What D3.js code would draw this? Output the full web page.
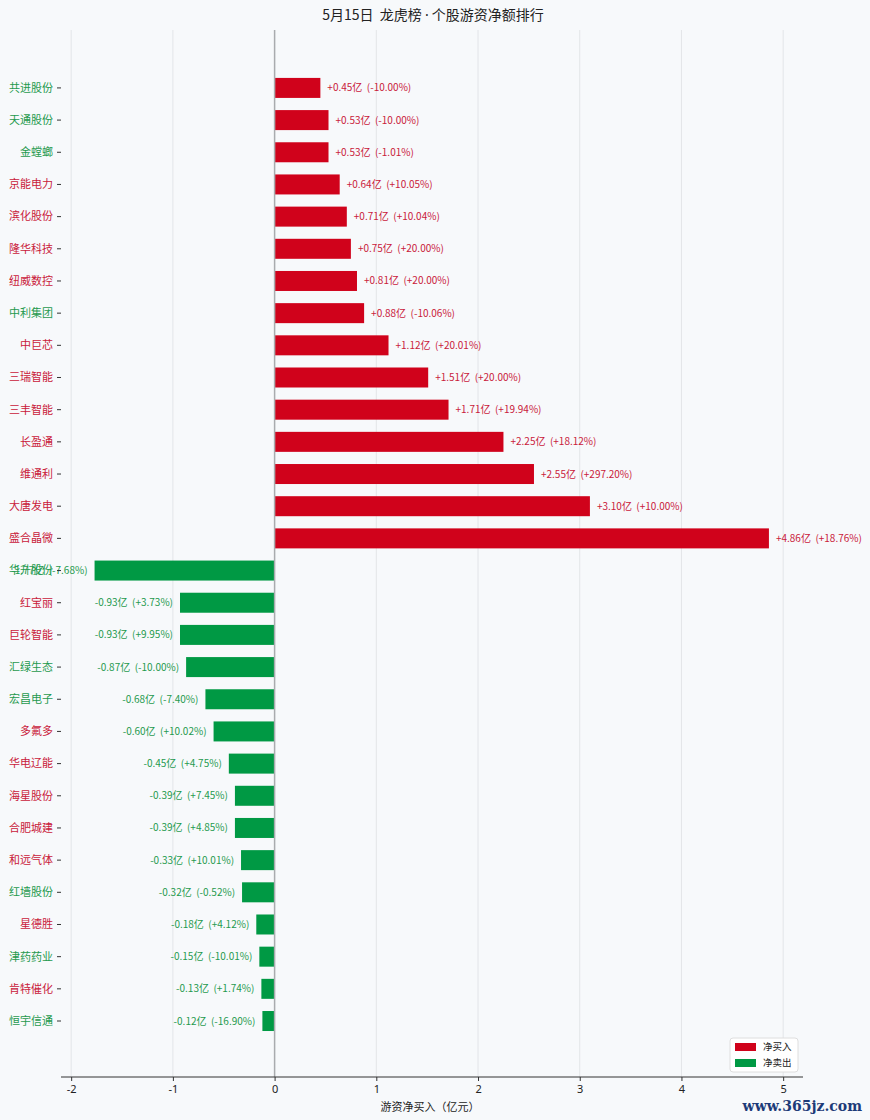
<!DOCTYPE html>
<html>
<head>
<meta charset="utf-8">
<script src="https://cdn.jsdelivr.net/npm/d3@7"></script>
<style>
  body { margin: 0; background: #f7f9fb; }
  svg { display: block; font-family: "Noto Sans CJK SC", "Noto Sans", sans-serif; }
  .lbl { white-space: pre; }
</style>
</head>
<body>
<svg id="chart" width="870" height="1120"></svg>
<script>
// stock names, top to bottom
var names = ["共进股份","天通股份","金螳螂","京能电力","滨化股份","隆华科技","纽威数控","中利集团","中巨芯","三瑞智能",
  "三丰智能","长盈通","维通利","大唐发电","盛合晶微","华升股份","红宝丽","巨轮智能","汇绿生态","宏昌电子",
  "多氟多","华电辽能","海星股份","合肥城建","和远气体","红墙股份","星德胜","津药药业","肯特催化","恒宇信通"]
// 游资净买入 (亿元)
var netBuy = [0.45,0.53,0.53,0.64,0.71,0.75,0.81,0.88,1.12,1.51,
  1.71,2.25,2.55,3.10,4.86,-1.77,-0.93,-0.93,-0.87,-0.68,
  -0.60,-0.45,-0.39,-0.39,-0.33,-0.32,-0.18,-0.15,-0.13,-0.12]
// 涨跌幅 (%)
var pctChg = [-10.00,-10.00,-1.01,10.05,10.04,20.00,20.00,-10.06,20.01,20.00,
  19.94,18.12,297.20,10.00,18.76,-7.68,3.73,9.95,-10.00,-7.40,
  10.02,4.75,7.45,4.85,10.01,-0.52,4.12,-10.01,1.74,-16.90]
var xTicks = [-2,-1,0,1,2,3,4,5]
var legendItems = ["净买入","净卖出"]

var red = "#d0021b", green = "#009944"
var redText = "#c9203a", greenText = "#1f9a4e"

var svg = d3.select("#chart")
var pLeft = 61, pRight = 803, pTop = 30, pBottom = 1077

var x = d3.scaleLinear().domain([-2.1, 5.195]).range([pLeft, pRight])
var y = d3.scaleLinear().domain([-1.8, names.length - 1 + 1.74]).range([pTop, pBottom])
var barH = 20

svg.append("rect").attr("width", 870).attr("height", 1120).attr("fill", "#f7f9fb")

// title
var title = svg.append("text").attr("x", 433).attr("y", 20).attr("text-anchor", "middle")
  .attr("font-size", 14).attr("fill", "#222").attr("class", "lbl")
title.append("tspan").text("5月15日  龙虎榜 ")
title.append("tspan").attr("font-family", "'Noto Sans', sans-serif").text("·")
title.append("tspan").text(" 个股游资净额排行")

// vertical grid
svg.append("g").selectAll("line").data(xTicks).enter().append("line")
  .attr("x1", function(d){return x(d)}).attr("x2", function(d){return x(d)})
  .attr("y1", pTop).attr("y2", pBottom)
  .attr("stroke", "#e3e5e8").attr("stroke-width", 1)

// bars
svg.append("g").selectAll("rect").data(netBuy).enter().append("rect")
  .attr("x", function(d){return x(Math.min(0, d))})
  .attr("y", function(d, i){return y(i) - barH / 2})
  .attr("width", function(d){return Math.abs(x(d) - x(0))})
  .attr("height", barH)
  .attr("fill", function(d){return d >= 0 ? red : green})

// zero line
svg.append("line").attr("x1", x(0)).attr("x2", x(0)).attr("y1", pTop).attr("y2", pBottom)
  .attr("stroke", "#a9abae").attr("stroke-width", 1.5)

// value labels
svg.append("g").selectAll("text").data(netBuy).enter().append("text")
  .attr("class", "lbl")
  .attr("x", function(d){return d >= 0 ? x(d) + 7 : x(d) - 7})
  .attr("y", function(d, i){return y(i)})
  .attr("dy", "0.35em")
  .attr("text-anchor", function(d){return d >= 0 ? "start" : "end"})
  .attr("font-size", 10)
  .attr("fill", function(d){return d >= 0 ? redText : greenText})
  .text(function(d, i){
    var p = pctChg[i]
    return (d >= 0 ? "+" : "") + d.toFixed(2) + "亿  (" + (p >= 0 ? "+" : "") + p.toFixed(2) + "%)"
  })

// y axis (ticks + names, coloured by price change)
var yAxis = svg.append("g")
yAxis.selectAll("line").data(names).enter().append("line")
  .attr("x1", pLeft - 4).attr("x2", pLeft).attr("y1", function(d, i){return y(i)}).attr("y2", function(d, i){return y(i)})
  .attr("stroke", "#333").attr("stroke-width", 1)
yAxis.selectAll("text").data(names).enter().append("text")
  .attr("x", pLeft - 8).attr("y", function(d, i){return y(i)}).attr("dy", "0.35em")
  .attr("text-anchor", "end").attr("font-size", 11)
  .attr("fill", function(d, i){return pctChg[i] >= 0 ? redText : greenText})
  .text(function(d){return d})

// x axis
var xAxis = svg.append("g").attr("transform", "translate(0," + pBottom + ")")
  .call(d3.axisBottom(x).tickValues(xTicks).tickSize(4).tickPadding(4).tickFormat(d3.format("d")))
xAxis.select(".domain").attr("stroke", "#333").attr("d", "M" + pLeft + ",0H" + pRight)
xAxis.selectAll("line").attr("stroke", "#333")
xAxis.selectAll("text").attr("font-size", 11).attr("fill", "#222")
  .attr("font-family", "'Noto Sans', sans-serif").text(function(d){return d < 0 ? "-" + Math.abs(d) : d})

svg.append("text").attr("x", 430).attr("y", 1111).attr("text-anchor", "middle")
  .attr("font-size", 11).attr("fill", "#222").text("游资净买入（亿元）")

// legend
var lg = svg.append("g").attr("transform", "translate(730,1038)")
lg.append("rect").attr("width", 68).attr("height", 34).attr("rx", 3)
  .attr("fill", "#fff").attr("stroke", "#dedede")
lg.selectAll(".sw").data(legendItems).enter().append("rect")
  .attr("x", 5).attr("y", function(d, i){return 5 + i * 16}).attr("width", 21).attr("height", 8)
  .attr("fill", function(d, i){return i == 0 ? red : green})
lg.selectAll(".tx").data(legendItems).enter().append("text")
  .attr("x", 33).attr("y", function(d, i){return 9 + i * 16}).attr("dy", "0.35em")
  .attr("font-size", 9.5).attr("fill", "#222").text(function(d){return d})

// watermark
svg.append("text").attr("x", 862).attr("y", 1111).attr("text-anchor", "end")
  .attr("font-family", "'DejaVu Serif', serif").attr("font-size", 14).attr("font-weight", "bold")
  .attr("fill", "#1d3b78").text("www.365jz.com")
</script>
</body>
</html>
